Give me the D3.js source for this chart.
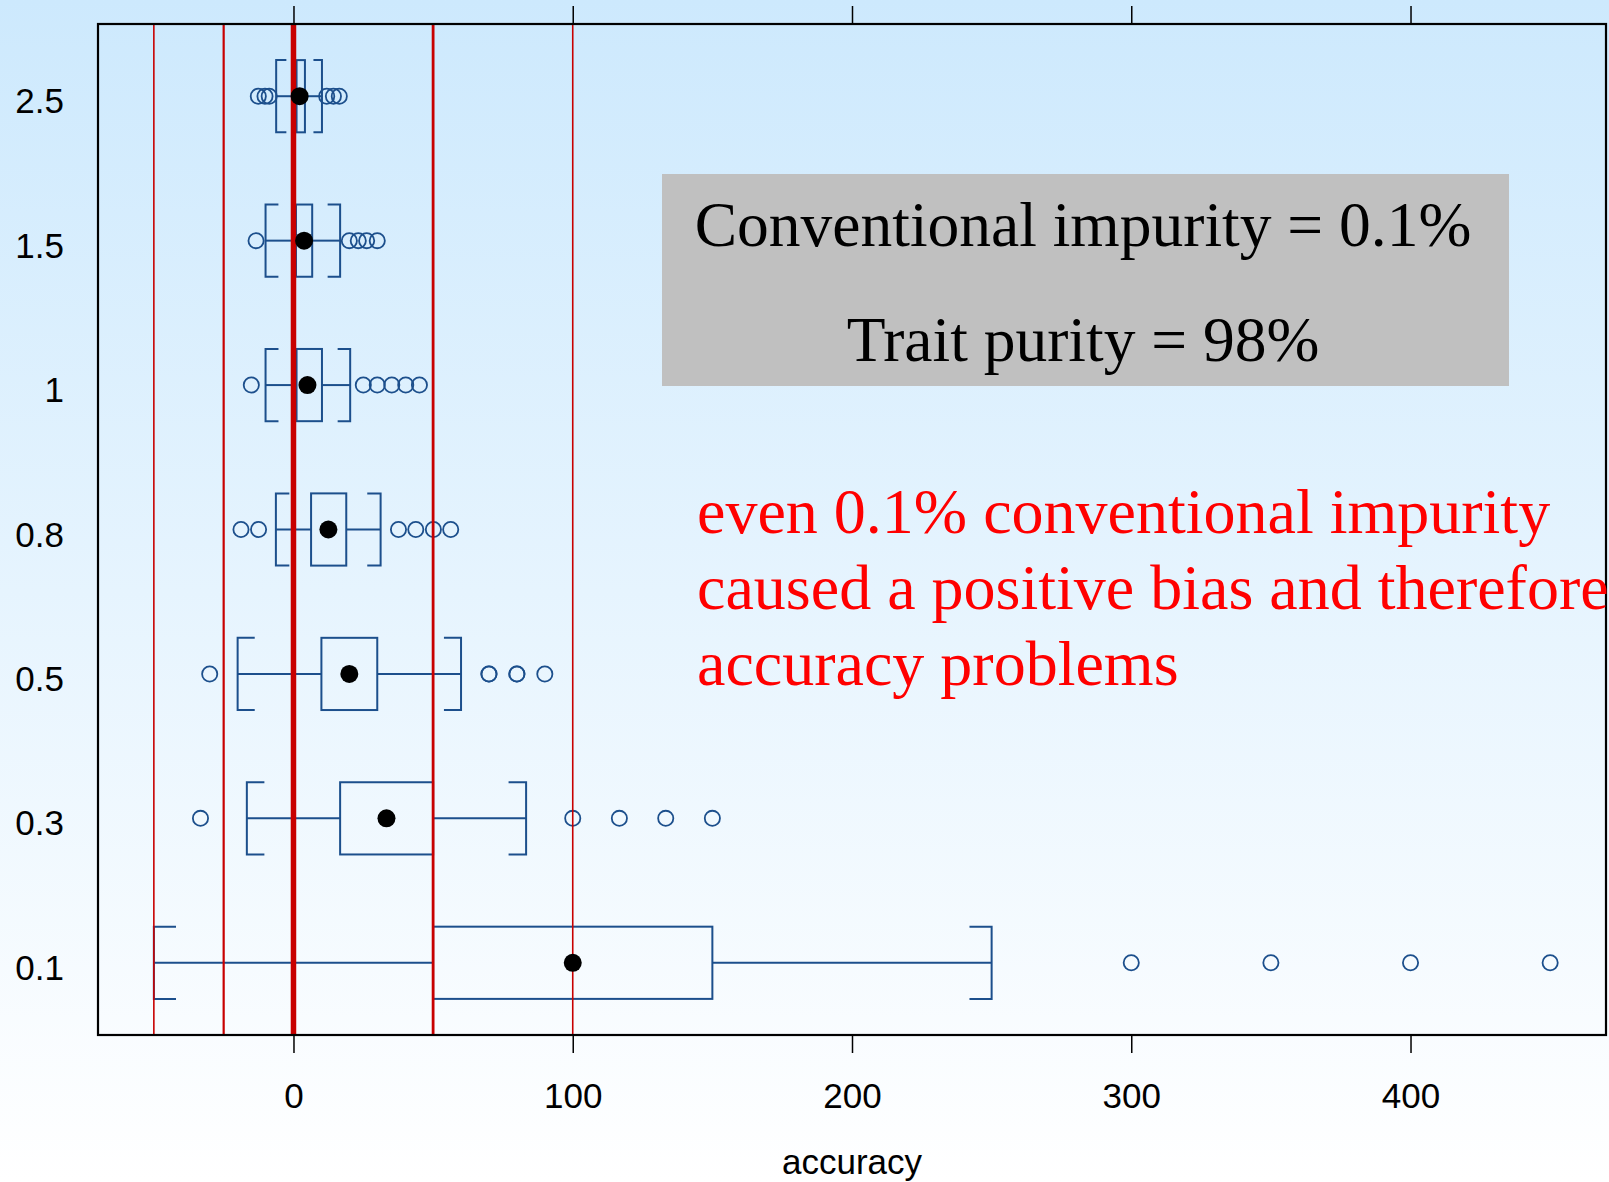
<!DOCTYPE html>
<html>
<head>
<meta charset="utf-8">
<script src="https://cdn.jsdelivr.net/npm/d3@7"></script>
<style>
  body { margin: 0; background: #fff; }
  #chart { width: 1609px; height: 1182px; }
  .sans { font-family: 'Liberation Sans', Arial, sans-serif; }
  .serif { font-family: 'Liberation Serif', 'Times New Roman', serif; }
</style>
</head>
<body>
<div id="chart"></div>
<script>
// groups (conventional impurity %), top to bottom
const groups = ['2.5', '1.5', '1', '0.8', '0.5', '0.3', '0.1']
// box statistics per group
const whiskerLo = [-6.2, -10, -10, -6.3, -20, -16.7, -50]
const q1 = [1.1, 0.9, 1.1, 6.3, 10, 16.7, 50]
const median = [2.2, 3.8, 5, 12.5, 20, 33.3, 100]
const q3 = [4.1, 6.7, 10.2, 18.9, 30, 50, 150]
const whiskerHi = [10.2, 16.7, 20.3, 31.2, 60, 83.3, 250]
const outliers = [
  [-12.6, -10.2, -8.7, 11.9, 14.3, 16.4],
  [-13.4, 20, 23.2, 26.2, 30],
  [-15.1, 25, 30, 35.2, 40.2, 45.1],
  [-18.8, -12.5, 37.6, 43.8, 50.1, 56.3],
  [-30, 70, 70, 80, 80, 90],
  [-33.3, 100, 116.7, 133.3, 150],
  [300, 350, 400, 450]
]
// reference lines and axis ticks
const refLines = [-50, -25, 0, 50, 100]
const xTicks = [0, 100, 200, 300, 400]
const boxNote = ['Conventional impurity = 0.1%', 'Trait purity = 98%']
const redNote = ['even 0.1% conventional impurity', 'caused a positive bias and therefore', 'accuracy problems']

const W = 1609
const H = 1182
const plot = { left: 98, right: 1606, top: 24, bottom: 1035 }
const boxColor = '#1c4f8c'
const refColor = '#c80000'
const refWidth = { '-50': 1.6, '-25': 2.2, '0': 5.5, '50': 2.8, '100': 1.6 }

const svg = d3.select('#chart').append('svg')
  .attr('width', W)
  .attr('height', H)

// background gradient
let grad = svg.append('defs').append('linearGradient')
  .attr('id', 'bg')
  .attr('x1', 0).attr('y1', 0).attr('x2', 0).attr('y2', 1)
grad.append('stop').attr('offset', '0%').attr('stop-color', '#cde9fd')
grad.append('stop').attr('offset', '100%').attr('stop-color', '#ffffff')
svg.append('rect').attr('width', W).attr('height', H).attr('fill', 'url(#bg)')

const x = d3.scaleLinear().domain([-70, 470]).range([plot.left, plot.right])
const y = d3.scaleBand().domain(groups).range([plot.top, plot.bottom])
const bw = y.bandwidth()
const boxH = bw / 2

// x axes, bottom and top
let axB = svg.append('g')
  .attr('transform', `translate(0,${plot.bottom})`)
  .call(d3.axisBottom(x).tickValues(xTicks).tickSize(18).tickPadding(30).tickSizeOuter(0))
let axT = svg.append('g')
  .attr('transform', `translate(0,${plot.top})`)
  .call(d3.axisTop(x).tickValues(xTicks).tickSize(18).tickFormat('').tickSizeOuter(0))
axB.select('.domain').remove()
axT.select('.domain').remove()
svg.selectAll('.tick line').attr('stroke', '#000').attr('stroke-width', 1.5)
axB.selectAll('.tick text')
  .attr('class', 'sans')
  .attr('fill', '#000')
  .style('font-size', '35px')

// y labels
svg.append('g').selectAll('text')
  .data(groups)
  .enter()
  .append('text')
  .attr('class', 'sans')
  .attr('x', 64)
  .attr('y', d => y(d) + bw / 2 + 17)
  .attr('text-anchor', 'end')
  .style('font-size', '35px')
  .text(d => d)

// x title
svg.append('text')
  .attr('class', 'sans')
  .attr('x', (plot.left + plot.right) / 2)
  .attr('y', 1174)
  .attr('text-anchor', 'middle')
  .style('font-size', '35px')
  .text('accuracy')

// boxes
let rows = svg.append('g').selectAll('.row')
  .data(groups)
  .enter()
  .append('g')
  .attr('class', 'row')
  .attr('fill', 'none')
  .attr('stroke', boxColor)
  .attr('stroke-width', 2)
  .each(function (g, i) {
    let el = d3.select(this)
    let cy = y(g) + bw / 2
    let top = cy - boxH / 2
    let bot = cy + boxH / 2
    let xl = x(whiskerLo[i])
    let xh = x(whiskerHi[i])
    let x1 = x(q1[i])
    let x3 = x(q3[i])
    el.append('rect')
      .attr('x', x1).attr('y', top)
      .attr('width', x3 - x1).attr('height', boxH)
    el.append('line').attr('x1', xl).attr('x2', x1).attr('y1', cy).attr('y2', cy)
    el.append('line').attr('x1', x3).attr('x2', xh).attr('y1', cy).attr('y2', cy)
    // bracket-shaped whisker ends
    let capL = capLen(x1 - xl)
    let capR = capLen(xh - x3)
    el.append('path').attr('d', `M${xl + capL},${top}H${xl}V${bot}H${xl + capL}`)
    el.append('path').attr('d', `M${xh - capR},${top}H${xh}V${bot}H${xh - capR}`)
    el.selectAll('circle')
      .data(outliers[i])
      .enter()
      .append('circle')
      .attr('cx', d => x(d))
      .attr('cy', cy)
      .attr('r', 7.6)
      .attr('stroke-width', 1.8)
  })

function capLen (len) {
  return Math.min(len / 2, 4.2 * Math.log(Math.max(len, 1)) - 1.5)
}

// red reference lines
svg.append('g').selectAll('line')
  .data(refLines)
  .enter()
  .append('line')
  .attr('x1', d => x(d)).attr('x2', d => x(d))
  .attr('y1', plot.top).attr('y2', plot.bottom)
  .attr('stroke', refColor)
  .attr('stroke-width', d => refWidth[String(d)])

// medians
svg.append('g').selectAll('circle')
  .data(groups)
  .enter()
  .append('circle')
  .attr('cx', (d, i) => x(median[i]))
  .attr('cy', d => y(d) + bw / 2)
  .attr('r', 9)
  .attr('fill', '#000')

// plot frame
svg.append('rect')
  .attr('x', plot.left).attr('y', plot.top)
  .attr('width', plot.right - plot.left).attr('height', plot.bottom - plot.top)
  .attr('fill', 'none')
  .attr('stroke', '#000')
  .attr('stroke-width', 2.2)

// grey note box
svg.append('rect')
  .attr('x', 662).attr('y', 174)
  .attr('width', 847).attr('height', 212)
  .attr('fill', '#c0c0c0')
svg.append('g').selectAll('text')
  .data(boxNote)
  .enter()
  .append('text')
  .attr('class', 'serif')
  .attr('x', 1083)
  .attr('y', (d, i) => 246 + i * 115)
  .attr('text-anchor', 'middle')
  .style('font-size', '63.5px')
  .text(d => d)

// red comment
svg.append('g').selectAll('text')
  .data(redNote)
  .enter()
  .append('text')
  .attr('class', 'serif')
  .attr('x', 697)
  .attr('y', (d, i) => 533 + i * 76)
  .attr('fill', '#ff0000')
  .style('font-size', '64px')
  .text(d => d)
</script>
</body>
</html>
